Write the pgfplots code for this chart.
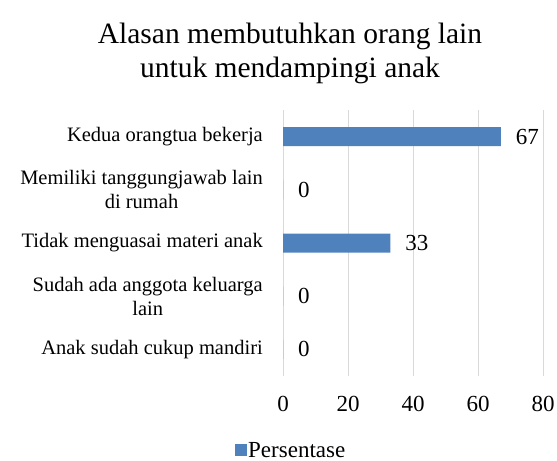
\documentclass[border=0pt]{standalone}
\usepackage{fontspec}
\setmainfont{Liberation Serif}
\usepackage{pgfplots}
\pgfplotsset{compat=1.18}
\definecolor{barblue}{HTML}{4F81BD}
\definecolor{gridgray}{HTML}{D9D9D9}
\begin{document}
\begin{tikzpicture}
\useasboundingbox (0,0) rectangle (557bp,-461bp);
\clip (0,0) rectangle (557bp,-461bp);
\node[anchor=base, inner sep=0pt, font=\fontsize{29.5bp}{34bp}\selectfont] at (290bp,-43bp) {Alasan membutuhkan orang lain};
\node[anchor=base, inner sep=0pt, font=\fontsize{29.5bp}{34bp}\selectfont] at (290bp,-77bp) {untuk mendampingi anak};
\begin{axis}[
  at={(283bp,-376bp)}, anchor=south west,
  scale only axis, width=260bp, height=266bp,
  xbar, bar width=19bp,
  xmin=0, xmax=80, ymin=0.5, ymax=5.5,
  xtick={0,20,40,60,80},
  ytick={1,2,3,4,5},
  yticklabels={Anak sudah cukup mandiri, {Sudah ada anggota keluarga\\lain}, Tidak menguasai materi anak, {Memiliki tanggungjawab lain\\di rumah}, Kedua orangtua bekerja},
  /pgf/number format/assume math mode=true,
  axis line style={draw=none},
  major tick length=0pt,
  xmajorgrids, grid style={gridgray, line width=1bp},
  yticklabel style={align=center, anchor=east, inner sep=0pt, xshift=-20bp, font=\fontsize{20.5bp}{24bp}\selectfont},
  xticklabel style={anchor=north, inner sep=0pt, yshift=-20bp, font=\fontsize{23bp}{26bp}\selectfont},
  nodes near coords,
  nodes near coords style={anchor=west, inner sep=0pt, xshift=15bp, font=\fontsize{23bp}{26bp}\selectfont, black},
  legend image code/.code={\fill[barblue] (0bp,-6bp) rectangle (12bp,6bp);},
  legend style={draw=none, fill=none, inner sep=0pt, nodes={inner sep=1bp}, at={(-0.1846,-0.28)}, anchor=west, font=\fontsize{23bp}{24bp}\selectfont, /tikz/every even column/.append style={column sep=4bp}},
]
\addplot[fill=barblue, draw=none] coordinates {(0,1) (0,2) (33,3) (0,4) (67,5)};
\addlegendentry{Persentase}
\end{axis}
\end{tikzpicture}
\end{document}
